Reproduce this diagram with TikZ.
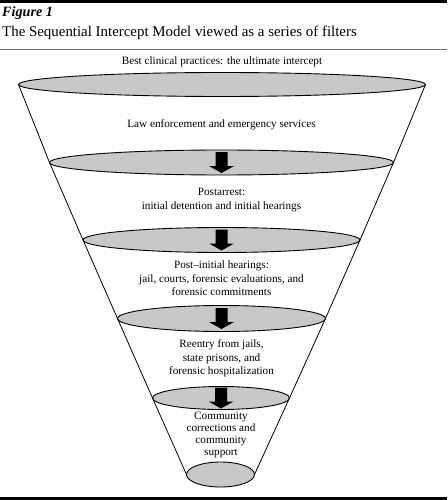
\documentclass[tikz,border=0pt]{standalone}
\usepackage{fontspec}
\setmainfont{Liberation Serif}
\usetikzlibrary{shapes.geometric}
\definecolor{filtergray}{RGB}{200,200,200}
\definecolor{rulegray}{RGB}{110,110,110}
\tikzset{
  filter/.style={ellipse,draw,line width=0.9pt,fill=filtergray,inner sep=0pt,outer sep=0pt},
  stage/.style={align=center,font=\fontsize{11.2}{13.5}\selectfont},
  drop/.pic={\fill (-6,-10.5) -- (6,-10.5) -- (6,3.5) -- (12.5,3.5) -- (0,10.5) -- (-12.5,3.5) -- (-6,3.5) -- cycle;}
}
\begin{document}
\begin{tikzpicture}[x=1pt,y=-1pt]
  \useasboundingbox (0,0) rectangle (447,500);
  \draw[line width=3pt] (0,1.6) -- (447,1.6);
  \draw[rulegray,line width=1pt] (0,50) -- (447,50);
  \draw[line width=2.6pt] (0,498.7) -- (447,498.7);
  \node[anchor=base west,inner sep=0pt,font=\fontsize{14.2}{15}\selectfont\bfseries\itshape] (fig) at (2,17) {Figure 1};
  \node[anchor=base west,inner sep=0pt,font=\fontsize{14.9}{16}\selectfont] (title) at (2,37) {The Sequential Intercept Model viewed as a series of filters};
  \node[filter,minimum width=407pt,minimum height=24pt] (f1) at (222,84.5) {};
  \node[filter,minimum width=344pt,minimum height=25pt] (f2) at (221.5,162.5) {};
  \node[filter,minimum width=277pt,minimum height=25pt] (f3) at (221.5,240) {};
  \node[filter,minimum width=208pt,minimum height=26pt] (f4) at (221.5,318.5) {};
  \node[filter,minimum width=137pt,minimum height=23pt] (f5) at (221,398) {};
  \node[filter,minimum width=68pt,minimum height=25pt] (f6) at (220.5,474.5) {};
  \begin{scope}[line width=0.8pt]
    \draw (f1.west) -- (f2.west) -- (f3.west) -- (f4.west) -- (f5.west) -- (f6.west);
    \draw (f1.east) -- (f2.east) -- (f3.east) -- (f4.east) -- (f5.east) -- (f6.east);
  \end{scope}
  \pic at (f2.center) {drop};
  \pic at (f3.center) {drop};
  \pic at (f4.center) {drop};
  \pic at (f5.center) {drop};
  \node[stage] (s0) at (222,62) {Best clinical practices: the ultimate intercept};
  \node[stage] (s1) at (221.5,125) {Law enforcement and emergency services};
  \node[stage] (s2) at (221.5,200) {Postarrest:\\initial detention and initial hearings};
  \node[stage] (s3) at (221.5,278.5) {Post–initial hearings:\\jail, courts, forensic evaluations, and\\forensic commitments};
  \node[stage] (s4) at (221.5,358.5) {Reentry from jails,\\state prisons, and\\forensic hospitalization};
  \node[stage,font=\fontsize{11.2}{12.3}\selectfont] (s5) at (221,435) {Community\\corrections and\\community\\support};
\end{tikzpicture}
\end{document}
